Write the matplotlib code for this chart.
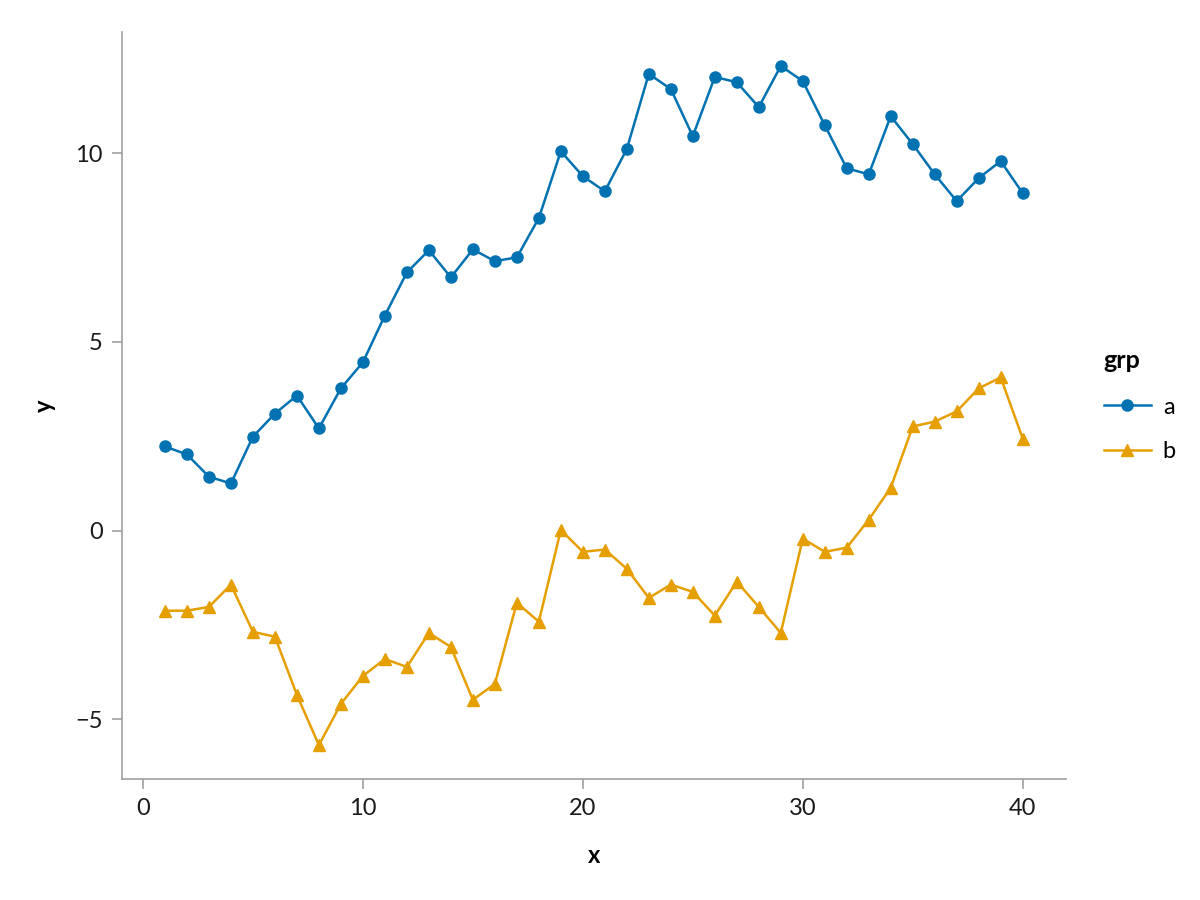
import numpy as np
import matplotlib
matplotlib.use("Agg")
import matplotlib.pyplot as plt

plt.rcParams['font.family'] = ['Lato', 'DejaVu Sans']

x = list(range(1, 41))
a = [2.23, 2.02, 1.43, 1.25, 2.49, 3.10, 3.58, 2.71, 3.77, 4.46,
     5.70, 6.84, 7.43, 6.71, 7.45, 7.14, 7.24, 8.28, 10.05, 9.39,
     8.99, 10.11, 12.10, 11.70, 10.45, 12.02, 11.88, 11.22, 12.31, 11.91,
     10.74, 9.60, 9.44, 10.98, 10.24, 9.44, 8.73, 9.34, 9.79, 8.94]
b = [-2.12, -2.12, -2.02, -1.43, -2.68, -2.81, -4.35, -5.68, -4.59, -3.85,
     -3.40, -3.61, -2.71, -3.08, -4.48, -4.06, -1.91, -2.41, 0.02, -0.56,
     -0.50, -1.01, -1.78, -1.43, -1.62, -2.25, -1.35, -2.02, -2.71, -0.21,
     -0.56, -0.45, 0.29, 1.14, 2.76, 2.89, 3.16, 3.77, 4.06, 2.44]
groups = ["a", "b"]
colors = ["#0072B2", "#E69F00"]
markers = ["o", "^"]

fig = plt.figure(figsize=(12, 9), dpi=100)
ax = fig.add_axes([0.1017, 0.1344, 0.7863, 0.83])

for vals, g, c, m in zip([a, b], groups, colors, markers):
    ax.plot(x, vals, color=c, marker=m, markersize=8, linewidth=1.8, label=g)

# ggplot-like 5% expansion
allv = a + b
xr = max(x) - min(x)
yr = max(allv) - min(allv)
ax.set_xlim(min(x) - 0.05 * xr, max(x) + 0.05 * xr)
ax.set_ylim(min(allv) - 0.05 * yr, max(allv) + 0.05 * yr)

ax.set_xticks([0, 10, 20, 30, 40])
ax.set_yticks([-5, 0, 5, 10])
for s in ["top", "right"]:
    ax.spines[s].set_visible(False)
for s in ["left", "bottom"]:
    ax.spines[s].set_color("#A0A0A0")
    ax.spines[s].set_linewidth(1.2)
ax.tick_params(colors="#A0A0A0", labelcolor="#1a1a1a", length=7, width=1.2,
               labelsize=17, direction="out", pad=7)
ax.set_xlabel("x", fontsize=17, fontweight="bold", labelpad=18)
ax.set_ylabel("y", fontsize=17, fontweight="bold", labelpad=14)

leg = ax.legend(title="grp", loc="center left", bbox_to_anchor=(1.018, 0.5),
                frameon=False, prop={"size": 17},
                title_fontproperties={"weight": "bold", "size": 18},
                handlelength=2.0, handletextpad=0.5, labelspacing=1.0)
leg._legend_box.align = "left"
leg._legend_box.sep = 18

fig.savefig("out.png", dpi=100)
